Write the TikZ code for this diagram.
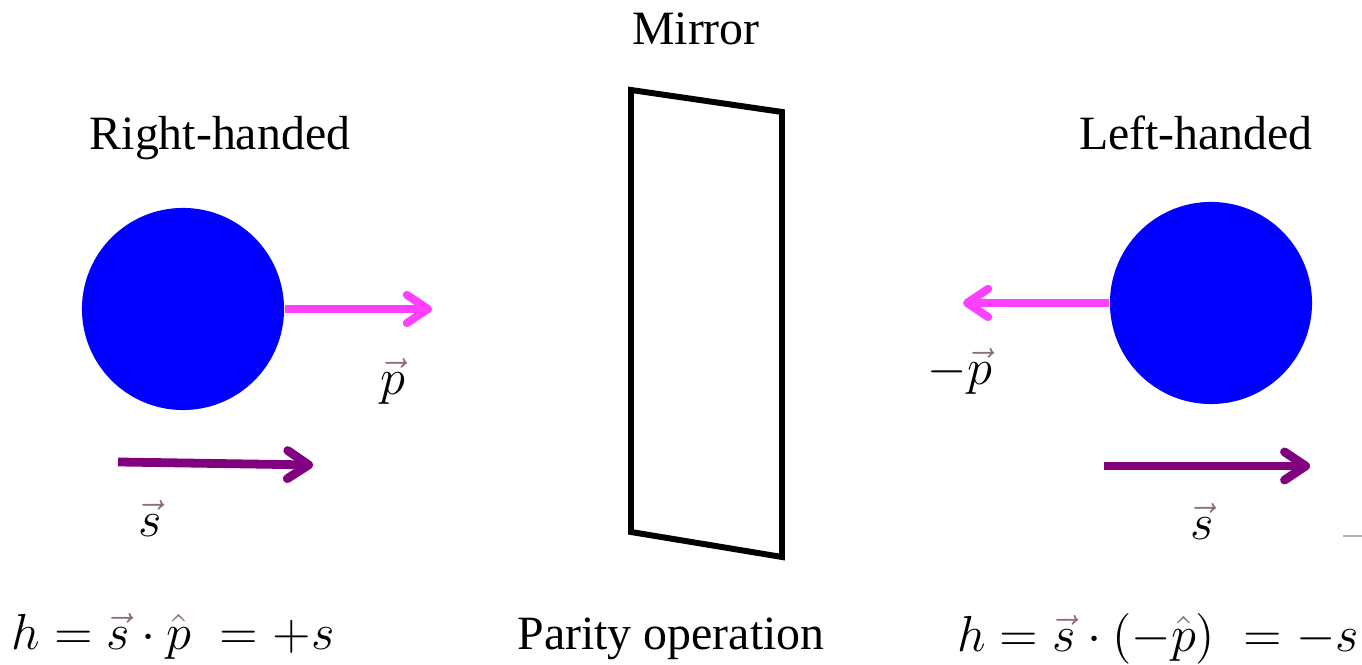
\documentclass[tikz,border=0pt]{standalone}
\usepackage{amsmath}
\usepackage{fontspec}
\setmainfont{Liberation Serif}
\usetikzlibrary{arrows.meta}

\definecolor{ballblue}{RGB}{0,0,255}
\definecolor{ppink}{RGB}{255,64,255}
\definecolor{spurple}{RGB}{128,0,128}
\definecolor{vecbrown}{RGB}{140,110,110}
\newcommand{\cvec}[1]{{\color{vecbrown}\vec{{\color{black}#1}}}}
\newcommand{\chat}[1]{{\color{vecbrown}\hat{{\color{black}#1}}}}

\begin{document}
\begin{tikzpicture}[
  x=0.01cm, y=-0.01cm,
  font=\fontsize{13.6}{16}\selectfont,
  ball/.style={circle, fill=ballblue, minimum size=2.02cm, inner sep=0pt},
  parr/.style={draw=ppink, line width=2.3pt, -{Straight Barb[length=6pt, width=8pt, round]}},
  sarr/.style={draw=spurple, line width=2.5pt, -{Straight Barb[length=6pt, width=8pt, round]}},
  mirror/.style={line width=1.7pt, line join=miter},
  lbl/.style={inner sep=0pt, anchor=base},
  mth/.style={lbl, font=\fontsize{13.6}{16}\selectfont}
]
\useasboundingbox (0,0) rectangle (1362,665);

% titles
\node[lbl] (mt) at (696,45) {Mirror};
\node[lbl] (rh) at (220,150) {Right-handed};
\node[lbl] (lh) at (1196,150) {Left-handed};
\node[lbl] (po) at (671,650) {Parity operation};

% the mirror
\draw[mirror] (631,90) -- (782,112) -- (782,557) -- (631,532) -- cycle;

% particles
\node[ball] (rb) at (183,309) {};
\node[ball] (lb) at (1211,303) {};

% momentum
\coordinate (rp) at (432,309);
\coordinate (lp) at (963,303);
\draw[parr] (rb.east) -- (rp);
\draw[parr] (lb.west) -- (lp);

% spin
\coordinate (rs0) at (118,462);
\coordinate (rs1) at (313,465);
\coordinate (ls0) at (1104,466);
\coordinate (ls1) at (1310,466);
\draw[sarr] (rs0) -- (rs1);
\draw[sarr] (ls0) -- (ls1);

\draw[gray!60, line width=0.6pt] (1343,536) -- (1362,536);

% labels
\node[mth] (pv)  at (393,395) {$\cvec{p}$};
\node[mth] (mpv) at (960,385) {$-\cvec{p}$};
\node[mth] (rsv) at (150,537) {$\cvec{s}$};
\node[mth] (lsv) at (1202,540) {$\cvec{s}$};

% helicity
\node[mth] (hr) at (173,650) {$h=\cvec{s}\cdot\chat{p}\;=+s$};
\node[mth] (hl) at (1158,652) {$h=\cvec{s}\cdot(-\chat{p})\;=-s$};
\end{tikzpicture}
\end{document}
